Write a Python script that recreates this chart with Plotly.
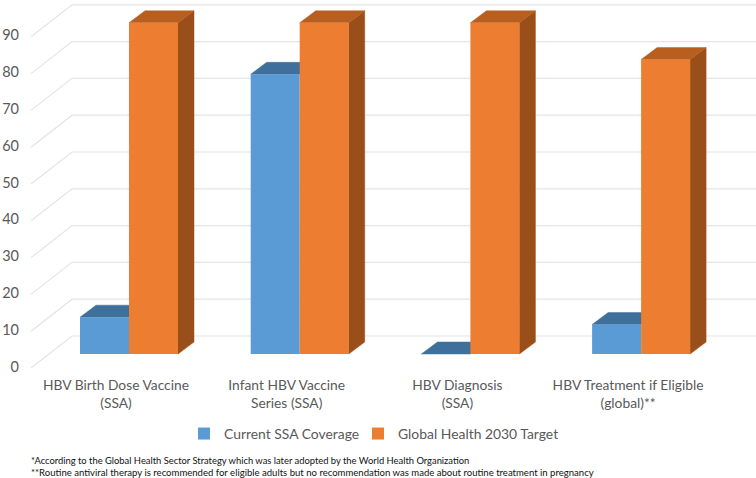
import plotly.graph_objects as go

categories = ["HBV Birth Dose Vaccine<br>(SSA)", "Infant HBV Vaccine<br>Series (SSA)", "HBV Diagnosis<br>(SSA)", "HBV Treatment if Eligible<br>(global)**"]
current = [10, 76, 0, 8]
target = [90, 90, 90, 80]
y_ticks = [0, 10, 20, 30, 40, 50, 60, 70, 80, 90]
footnote_1 = "*According to the Global Health Sector Strategy which was later adopted by the World Health Organization"
footnote_2 = "**Routine antiviral therapy is recommended for eligible adults but no recommendation was made about routine treatment in pregnancy"

W, H = 756, 478
L, B = 20, 106
PX_X = 170.7      # pixels per category
PX_Y = 3.68       # pixels per value unit
BAR_W = 49 / PX_X
DX, DY = 16 / PX_X, 12 / PX_Y          # bar depth
WALL_DX, WALL_DY = 41 / PX_X, 32 / PX_Y  # floor depth
WALL_X = (31 - 129) / PX_X
LABEL_OFFSET = 1.5                     # tick labels sit a little under their gridline ends
AXIS_ZERO = 365 + LABEL_OFFSET
WALL_SHIFT = -LABEL_OFFSET / PX_Y
SHIFT = (AXIS_ZERO - 354) / PX_Y       # bar plane sits above the front plane
LABEL_SHIFT = -13 / PX_X

GRID = "#E4E4E4"
BLUE, BLUE_TOP = "#5B9BD5", "#3F709C"
ORANGE, ORANGE_TOP, ORANGE_SIDE = "#ED7D31", "#B85F20", "#9A4F1B"
TEXT = "#595959"
FONT = "Lato"

fig = go.Figure()

# walls
x_right = (W - 129) / PX_X
for v in y_ticks:
    w = v + WALL_SHIFT
    fig.add_trace(go.Scatter(
        x=[WALL_X, WALL_X + WALL_DX, x_right], y=[w, w + WALL_DY, w + WALL_DY],
        mode="lines", line=dict(color=GRID, width=1.2), showlegend=False, hoverinfo="skip"))


def face(xs, ys, color):
    fig.add_trace(go.Scatter(x=xs, y=ys, mode="lines", fill="toself", fillcolor=color,
                             line=dict(color=color, width=0.5), showlegend=False, hoverinfo="skip"))


# depth faces, computed from the values
for i, (c, t) in enumerate(zip(current, target)):
    cv, tv = c + SHIFT, t + SHIFT
    face([i - BAR_W, i, i + DX, i - BAR_W + DX, i - BAR_W],
         [cv, cv, cv + DY, cv + DY, cv], BLUE_TOP)
    face([i + BAR_W, i + BAR_W + DX, i + BAR_W + DX, i + BAR_W, i + BAR_W],
         [SHIFT, SHIFT + DY, tv + DY, tv, SHIFT], ORANGE_SIDE)
    face([i, i + BAR_W, i + BAR_W + DX, i + DX, i],
         [tv, tv, tv + DY, tv + DY, tv], ORANGE_TOP)

xs = list(range(len(categories)))
fig.add_trace(go.Bar(x=xs, y=current, name="Current SSA Coverage", marker=dict(color=BLUE, line_width=0),
                     yaxis="y2", offsetgroup="a"))
fig.add_trace(go.Bar(x=xs, y=target, name="Global Health 2030 Target", marker=dict(color=ORANGE, line_width=0),
                     yaxis="y2", offsetgroup="b", legend="legend2"))

plot_h = H - B
u_low, u_high = (AXIS_ZERO - (H - B)) / PX_Y, AXIS_ZERO / PX_Y


def px_x(p):
    return (p - L) / (W - L)


def px_y(p):
    return (plot_h - p) / plot_h


for txt, py, size in [(footnote_1, 460, 9.4), (footnote_2, 472, 9.55)]:
    fig.add_annotation(text=txt, xref="paper", yref="paper", x=px_x(29), y=px_y(py), xanchor="left", yanchor="middle",
                       showarrow=False, font=dict(family=FONT, size=size, color="#111111"))

fig.update_layout(
    width=W, height=H, margin=dict(l=L, r=0, t=0, b=B, autoexpand=False),
    paper_bgcolor="white", plot_bgcolor="white",
    barmode="group", bargap=1 - 2 * BAR_W, bargroupgap=0,
    font=dict(family=FONT, size=14, color=TEXT),
    xaxis=dict(range=[(L - 129) / PX_X, x_right], tickmode="array",
               tickvals=[i + LABEL_SHIFT for i in xs], ticktext=categories,
               showgrid=False, zeroline=False, showline=False, ticks="", tickangle=0,
               ticklabelstandoff=3, tickfont=dict(size=13.8, color=TEXT)),
    yaxis=dict(range=[u_low, u_high], tickmode="array", tickvals=y_ticks,
               showgrid=False, zeroline=False, showline=False, ticks="",
               tickfont=dict(size=14.5, color=TEXT)),
    yaxis2=dict(range=[u_low - SHIFT, u_high - SHIFT], overlaying="y", visible=False),
    legend=dict(orientation="h", x=px_x(184), y=px_y(434), xanchor="left", yanchor="middle",
                font=dict(size=13.9, color=TEXT), bgcolor="rgba(0,0,0,0)"),
    legend2=dict(orientation="h", x=px_x(358), y=px_y(434), xanchor="left", yanchor="middle",
                 font=dict(size=13.9, color=TEXT), bgcolor="rgba(0,0,0,0)"),
    showlegend=True,
)

fig.write_html("out.html", post_script="document.body.style.margin='0';", config={"displayModeBar": False})
